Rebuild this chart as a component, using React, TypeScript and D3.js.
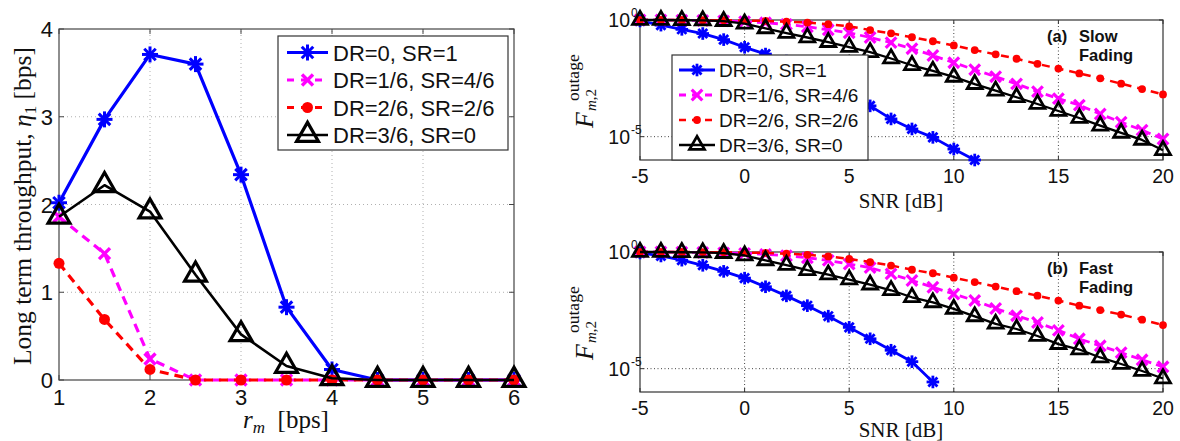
import React from 'react';
import * as d3 from 'd3';

// ---------- Left panel data ----------
const rmBps = [1, 1.5, 2, 2.5, 3, 3.5, 4, 4.5, 5, 5.5, 6];
const thrDR0 = [2.02, 2.97, 3.71, 3.6, 2.34, 0.83, 0.12, 0, 0, 0, 0];
const thrDR1 = [1.86, 1.44, 0.24, 0, 0, 0, 0, 0, 0, 0, 0];
const thrDR2 = [1.33, 0.69, 0.12, 0, 0, 0, 0, 0, 0, 0, 0];
const thrDR3 = [1.86, 2.22, 1.92, 1.2, 0.52, 0.16, 0.02, 0, 0, 0, 0];
const leftXTicks = [1, 2, 3, 4, 5, 6];
const leftYTicks = [0, 1, 2, 3, 4];

// ---------- Right panels data (log10 of outage probability) ----------
const snrDb = [-5, -4, -3, -2, -1, 0, 1, 2, 3, 4, 5, 6, 7, 8, 9, 10, 11, 12, 13, 14, 15, 16, 17, 18, 19, 20];
const slowDR0Exp = [-0.04, -0.22, -0.4, -0.58, -0.84, -1.17, -1.46, -1.76, -2.12, -2.55, -3.1, -3.68, -4.24, -4.67, -5.03, -5.53, -6.0];
const slowDR1Exp = [0, 0, -0.01, -0.02, -0.04, -0.07, -0.12, -0.19, -0.29, -0.42, -0.55, -0.75, -0.97, -1.23, -1.52, -1.83, -2.13, -2.43, -2.74, -3.07, -3.37, -3.65, -4.03, -4.38, -4.72, -5.1];
const slowDR2Exp = [0, 0, 0, -0.01, -0.01, -0.02, -0.04, -0.07, -0.11, -0.18, -0.27, -0.43, -0.57, -0.74, -0.91, -1.09, -1.29, -1.47, -1.66, -1.88, -2.08, -2.29, -2.5, -2.73, -2.96, -3.19];
const slowDR3Exp = [0, 0, -0.01, -0.02, -0.05, -0.16, -0.36, -0.56, -0.75, -0.95, -1.16, -1.38, -1.65, -1.94, -2.18, -2.44, -2.75, -3.03, -3.31, -3.6, -3.9, -4.2, -4.53, -4.84, -5.14, -5.58];

const fastDR0Exp = [-0.04, -0.17, -0.35, -0.57, -0.83, -1.12, -1.49, -1.88, -2.3, -2.75, -3.23, -3.72, -4.21, -4.7, -5.57];
const fastDR1Exp = [0, 0, -0.01, -0.02, -0.04, -0.06, -0.1, -0.16, -0.25, -0.36, -0.52, -0.67, -0.94, -1.22, -1.51, -1.8, -2.08, -2.42, -2.73, -3.02, -3.36, -3.72, -4.02, -4.31, -4.62, -4.92];
const fastDR2Exp = [0, 0, 0, -0.01, -0.01, -0.02, -0.04, -0.07, -0.12, -0.19, -0.3, -0.43, -0.58, -0.76, -0.91, -1.1, -1.29, -1.48, -1.68, -1.87, -2.08, -2.3, -2.49, -2.68, -2.9, -3.13];
const fastDR3Exp = [0, 0, -0.01, -0.02, -0.05, -0.15, -0.36, -0.56, -0.78, -0.97, -1.18, -1.4, -1.64, -1.94, -2.16, -2.44, -2.76, -3.08, -3.3, -3.6, -3.95, -4.18, -4.52, -4.8, -5.1, -5.42];

const rightXTicks = [-5, 0, 5, 10, 15, 20];
const rightYTicks = [1, 1e-5];
const rightYTickExp = ['0', '-5'];

const legendLabels = ['DR=0, SR=1', 'DR=1/6, SR=4/6', 'DR=2/6, SR=2/6', 'DR=3/6, SR=0'];

const SANS = '"Liberation Sans", Arial, Helvetica, sans-serif';
const SERIF = '"Liberation Serif", "Times New Roman", serif';

type MType = 'star' | 'x' | 'dot' | 'tri';

const seriesStyle: { color: string; marker: MType; dash: string | null }[] = [
  { color: '#0000ff', marker: 'star', dash: null },
  { color: '#ff00ff', marker: 'x', dash: '9,6' },
  { color: '#ff0000', marker: 'dot', dash: '9,6' },
  { color: '#000000', marker: 'tri', dash: null },
];

function Marker({ type, x, y, size, color, sw }: { type: MType; x: number; y: number; size: number; color: string; sw: number }) {
  if (type === 'star') {
    const r = size, d = size * 0.72;
    return (
      <g stroke={color} strokeWidth={sw} strokeLinecap="butt">
        <line x1={x - r} y1={y} x2={x + r} y2={y} />
        <line x1={x} y1={y - r} x2={x} y2={y + r} />
        <line x1={x - d} y1={y - d} x2={x + d} y2={y + d} />
        <line x1={x - d} y1={y + d} x2={x + d} y2={y - d} />
      </g>
    );
  }
  if (type === 'x') {
    const r = size;
    return (
      <g stroke={color} strokeWidth={sw}>
        <line x1={x - r} y1={y - r} x2={x + r} y2={y + r} />
        <line x1={x - r} y1={y + r} x2={x + r} y2={y - r} />
      </g>
    );
  }
  if (type === 'dot') {
    return <circle cx={x} cy={y} r={size} fill={color} />;
  }
  const w = size * 1.15, h = size;
  const pts = `${x},${y - (2 * h) / 3} ${x - w / 2},${y + h / 3} ${x + w / 2},${y + h / 3}`;
  return <polygon points={pts} fill="none" stroke={color} strokeWidth={sw} strokeLinejoin="miter" />;
}

// ---------- Left panel ----------
function LeftPanel() {
  const x = d3.scaleLinear().domain([1, 6]).range([59, 514]);
  const y = d3.scaleLinear().domain([0, 4]).range([380, 29]);
  const data = [thrDR0, thrDR1, thrDR2, thrDR3];
  const mSize = [8, 5.5, 5.5, 19];
  const mSw = [3, 3.4, 0, 3.2];
  const lw = [3.2, 3.2, 3.2, 2.6];
  const line = d3.line<number>().x((_, i) => x(rmBps[i])).y((d) => y(d));
  const [X0, X1] = x.range();
  const [Y0, Y1] = y.range();
  return (
    <g>
      {leftXTicks.slice(1, -1).map((t) => (
        <line key={'gx' + t} x1={x(t)} x2={x(t)} y1={Y0} y2={Y1} stroke="#b0b0b0" strokeWidth={1} strokeDasharray="1,3" />
      ))}
      {leftYTicks.slice(1, -1).map((t) => (
        <line key={'gy' + t} x1={X0} x2={X1} y1={y(t)} y2={y(t)} stroke="#b0b0b0" strokeWidth={1} strokeDasharray="1,3" />
      ))}
      {leftXTicks.map((t) => (
        <g key={'tx' + t} stroke="#444" strokeWidth={1}>
          <line x1={x(t)} x2={x(t)} y1={Y0} y2={Y0 - 5} />
          <line x1={x(t)} x2={x(t)} y1={Y1} y2={Y1 + 5} />
        </g>
      ))}
      {leftYTicks.map((t) => (
        <g key={'ty' + t} stroke="#444" strokeWidth={1}>
          <line x1={X0} x2={X0 + 5} y1={y(t)} y2={y(t)} />
          <line x1={X1} x2={X1 - 5} y1={y(t)} y2={y(t)} />
        </g>
      ))}
      <rect x={X0} y={Y1} width={X1 - X0} height={Y0 - Y1} fill="none" stroke="#444" strokeWidth={1.2} />
      {data.map((s, si) => (
        <g key={'s' + si}>
          <path d={line(s) || ''} fill="none" stroke={seriesStyle[si].color} strokeWidth={lw[si]}
            strokeDasharray={seriesStyle[si].dash || undefined} strokeLinejoin="round" />
          {s.map((v, i) => (
            <Marker key={i} type={seriesStyle[si].marker} x={x(rmBps[i])} y={y(v)} size={mSize[si]} color={seriesStyle[si].color} sw={mSw[si]} />
          ))}
        </g>
      ))}
      {leftXTicks.map((t) => (
        <text key={'lx' + t} x={x(t)} y={405} textAnchor="middle" fontFamily={SANS} fontSize={22} fill="#111">{t}</text>
      ))}
      {leftYTicks.map((t) => (
        <text key={'ly' + t} x={53} y={y(t) + 8} textAnchor="end" fontFamily={SANS} fontSize={22} fill="#111">{t}</text>
      ))}
      <text x={286} y={428} textAnchor="middle" fontFamily={SERIF} fontSize={25} fill="#111">
        <tspan fontStyle="italic">r</tspan>
        <tspan fontStyle="italic" fontSize={17} dy={5}>m</tspan>
        <tspan dy={-5}>{'\u2002[bps]'}</tspan>
      </text>
      <text transform="translate(31,206) rotate(-90)" textAnchor="middle" fontFamily={SERIF} fontSize={25.5} fill="#111">
        <tspan>Long term throughput, </tspan>
        <tspan fontStyle="italic">η</tspan>
        <tspan fontSize={17} dy={5}>1</tspan>
        <tspan dy={-5}>{' [bps]'}</tspan>
      </text>
      <rect x={278} y={36} width={230} height={114} fill="#fff" stroke="#333" strokeWidth={1.2} />
      {legendLabels.map((lab, i) => {
        const cy = 52.5 + i * 27.5;
        const st = seriesStyle[i];
        return (
          <g key={'lg' + i}>
            <line x1={287} x2={328} y1={cy} y2={cy} stroke={st.color} strokeWidth={lw[i]} strokeDasharray={st.dash ? '7,7' : undefined} />
            <Marker type={st.marker} x={307.5} y={cy} size={mSize[i]} color={st.color} sw={mSw[i]} />
            <text x={333} y={cy + 8} fontFamily={SANS} fontSize={22} fill="#111">{lab}</text>
          </g>
        );
      })}
    </g>
  );
}

// ---------- Right panels ----------
function RightPanel({ top, bottom, data, tag, tag2, legend, tickLabelY, xLabelY, ylabY }:
  { top: number; bottom: number; data: number[][]; tag: string; tag2: string; legend: boolean; tickLabelY: number; xLabelY: number; ylabY: number }) {
  const x = d3.scaleLinear().domain([-5, 20]).range([640, 1163]);
  const y = d3.scaleLog().domain([1e-6, 1]).range([bottom, top]);
  const vals = data.map((s) => s.map((e) => Math.pow(10, e)));
  const mSize = [6.3, 5.3, 3.9, 13];
  const mSw = [2.8, 3.2, 0, 2.8];
  const lw = [2.8, 2.8, 2.5, 2.3];
  const dashes = [null, '8,5', '8,6', null];
  const line = d3.line<number>().x((_, i) => x(snrDb[i])).y((d) => y(d));
  const [X0, X1] = x.range();
  return (
    <g>
      {rightXTicks.slice(1, -1).map((t) => (
        <line key={'gx' + t} x1={x(t)} x2={x(t)} y1={bottom} y2={top} stroke="#444" strokeWidth={1} strokeDasharray="1,2.5" />
      ))}
      <line x1={X0} x2={X1} y1={y(1e-5)} y2={y(1e-5)} stroke="#444" strokeWidth={1} strokeDasharray="1,2.5" />
      {rightXTicks.map((t) => (
        <g key={'tx' + t} stroke="#333" strokeWidth={1}>
          <line x1={x(t)} x2={x(t)} y1={bottom} y2={bottom - 4} />
          <line x1={x(t)} x2={x(t)} y1={top} y2={top + 4} />
        </g>
      ))}
      {rightYTicks.map((t) => (
        <g key={'ty' + t} stroke="#333" strokeWidth={1}>
          <line x1={X0} x2={X0 + 4} y1={y(t)} y2={y(t)} />
          <line x1={X1} x2={X1 - 4} y1={y(t)} y2={y(t)} />
        </g>
      ))}
      <rect x={X0} y={top} width={X1 - X0} height={bottom - top} fill="none" stroke="#333" strokeWidth={1.2} />
      {vals.map((s, si) => (
        <g key={'s' + si}>
          <path d={line(s) || ''} fill="none" stroke={seriesStyle[si].color} strokeWidth={lw[si]}
            strokeDasharray={dashes[si] || undefined} strokeLinejoin="round" />
          {s.map((v, i) => (
            <Marker key={i} type={seriesStyle[si].marker} x={x(snrDb[i])} y={y(v)} size={mSize[si]} color={seriesStyle[si].color} sw={mSw[si]} />
          ))}
        </g>
      ))}
      {rightXTicks.map((t) => (
        <text key={'lx' + t} x={x(t)} y={tickLabelY} textAnchor="middle" fontFamily={SANS} fontSize={19.5} fill="#111">{t}</text>
      ))}
      {rightYTicks.map((t, i) => (
        <g key={'ly' + t}>
          <text x={630} y={y(t) + 7} textAnchor="end" fontFamily={SANS} fontSize={19.5} fill="#111">10</text>
          <text x={631} y={y(t) - 3} fontFamily={SANS} fontSize={12} fill="#111">{rightYTickExp[i]}</text>
        </g>
      ))}
      <text x={901} y={xLabelY} textAnchor="middle" fontFamily={SERIF} fontSize={21} fill="#111">SNR [dB]</text>
      <g transform={`translate(593,${ylabY}) rotate(-90)`} fontFamily={SERIF} fill="#111">
        <text x={0} y={0} fontSize={26} fontStyle="italic">F</text>
        <text x={27} y={-14} fontSize={17.5}>outage</text>
        <text x={17} y={3} fontSize={15}>
          <tspan fontStyle="italic">m</tspan><tspan>,2</tspan>
        </text>
      </g>
      <text x={1047} y={top + 22} fontFamily={SANS} fontSize={16.5} fontWeight="bold" fill="#111">{tag}</text>
      <text x={1079} y={top + 22} fontFamily={SANS} fontSize={16.5} fontWeight="bold" fill="#111">{tag2.split('|')[0]}</text>
      <text x={1079} y={top + 41} fontFamily={SANS} fontSize={16.5} fontWeight="bold" fill="#111">{tag2.split('|')[1]}</text>
      {legend && (
        <g>
          <rect x={672} y={55} width={196} height={105} fill="#fff" stroke="#333" strokeWidth={1.2} />
          {legendLabels.map((lab, i) => {
            const cy = 70 + i * 25;
            const st = seriesStyle[i];
            return (
              <g key={'lg' + i}>
                <line x1={679} x2={715} y1={cy} y2={cy} stroke={st.color} strokeWidth={lw[i]} strokeDasharray={dashes[i] ? '7,6' : undefined} />
                <Marker type={st.marker} x={697} y={cy} size={mSize[i]} color={st.color} sw={mSw[i]} />
                <text x={719} y={cy + 7} fontFamily={SANS} fontSize={19} fill="#111">{lab}</text>
              </g>
            );
          })}
        </g>
      )}
    </g>
  );
}

export default function App() {
  return (
    <svg width={1180} height={441} viewBox="0 0 1180 441" style={{ position: 'absolute', left: 0, top: 0, background: '#fff' }}>
      <rect x={0} y={0} width={1180} height={441} fill="#fff" />
      <LeftPanel />
      <RightPanel top={20} bottom={160} data={[slowDR0Exp, slowDR1Exp, slowDR2Exp, slowDR3Exp]} tag="(a)" tag2="Slow|Fading"
        legend={true} tickLabelY={183} xLabelY={208} ylabY={128} />
      <RightPanel top={252} bottom={392} data={[fastDR0Exp, fastDR1Exp, fastDR2Exp, fastDR3Exp]} tag="(b)" tag2="Fast|Fading"
        legend={false} tickLabelY={415} xLabelY={437} ylabY={360} />
    </svg>
  );
}
